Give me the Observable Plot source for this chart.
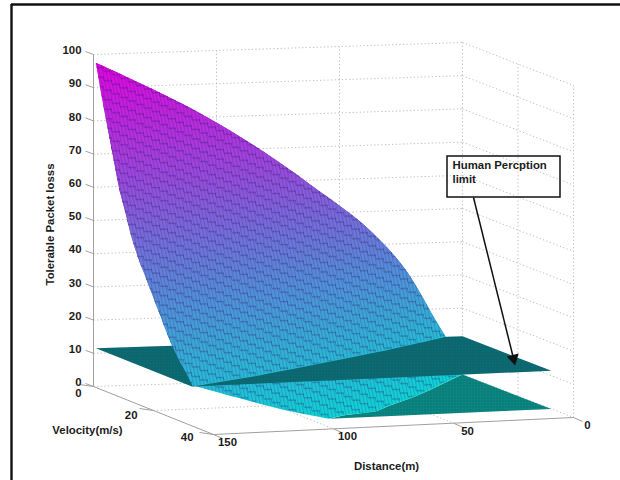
<!DOCTYPE html>
<html>
<head>
<meta charset="utf-8">
<script src="https://cdn.jsdelivr.net/npm/d3@7"></script>
<script src="https://cdn.jsdelivr.net/npm/@observablehq/plot@0.6"></script>
<style>body{margin:0;background:#fff}svg{display:block}</style>
</head>
<body>
<div id="chart"></div>
<script>
// ---- values ----
const lossTicks = [0,10,20,30,40,50,60,70,80,90,100];
const distanceTicks = [150,100,50,0];
const velocityTicks = [0,20,40];
const distanceNodes = [149,130,112,94,76,58,40,24,12,5,0];
const velocityNodes = [0,2,4,6,8,10,12,14,16,18,20,22,24,26,28,30,32];
const lossTable = [
 [97.5,90.5,83.5,75.5,66.5,56.5,46,33,18,9,0],
 [88,81.5,75,67,57,48,36,22,8,.5,0],
 [79,72,65.5,58,49,39,27,14.5,3,0,0],
 [70,63,56.5,49.5,41.5,32,21,9.2,0,0,0],
 [61.5,55,49,43,35.5,26.5,16.5,5.1,0,0,0],
 [55.5,48,43,37,30.5,23,12.5,1.3,0,0,0],
 [49,43,38,33,27,18,8.5,0,0,0,0],
 [44,39,34.5,29,23,15,5.5,0,0,0,0],
 [40,35,30,24.5,19,11.5,2.4,0,0,0,0],
 [36,30,25.5,21,15.5,8.8,0,0,0,0,0],
 [32,26.5,22,17,12.5,5.8,0,0,0,0,0],
 [28,22.5,18,14.5,10,2.8,0,0,0,0,0],
 [24,19,15,12,7,0,0,0,0,0,0],
 [20.5,16,12.5,9,4,0,0,0,0,0,0],
 [17.5,13.5,9.5,5.5,1.5,0,0,0,0,0,0],
 [15,10,6.5,3,0,0,0,0,0,0,0],
 [12,7.5,3.5,.3,0,0,0,0,0,0,0]
];
// where the surface reaches the floor (distance, velocity)
const floorEdgeDistance = [0,5,12,28,40,58,67,84,92];
const floorEdgeVelocity = [0,2.2,5.4,12.5,17.5,24,27.6,30,32];
// where the surface crosses the limit plane (distance, velocity)
const limitEdgeDistance = [149,115,85,47,7];
const limitEdgeVelocity = [32,26,19.6,10.8,0];
const limitLoss = 11.5;
const planeDistance = [149,0,0,149];
const planeVelocity = [0,0,32,32];

// ---- view of the box ----
const cornerFar = [462,374], cornerLeft = [93,386], cornerFront = [213,434], cornerRight = [573,417];
const unitHeight = 3.32;
function project(d,v,z=0){
  const s=d/150,t=v/40;
  const m=i=>(1-s)*(1-t)*cornerFar[i]+s*(1-t)*cornerLeft[i]+s*t*cornerFront[i]+(1-s)*t*cornerRight[i];
  return {px:m(0),py:m(1)-z*unitHeight,d,v,z};
}

// ---- tables for the marks ----
const nodes=[];
velocityNodes.forEach((v,i)=>distanceNodes.forEach((d,j)=>{ if(lossTable[i][j]>0) nodes.push(project(d,v,lossTable[i][j])); }));
const floorEdge=floorEdgeDistance.map((d,i)=>project(d,floorEdgeVelocity[i],0));
const limitEdge=limitEdgeDistance.map((d,i)=>project(d,limitEdgeVelocity[i],limitLoss));
const surfacePoints=[...nodes,...floorEdge];

const topEdge=distanceNodes.map((d,j)=>project(d,0,lossTable[0][j]));
const leftEdge=velocityNodes.map((v,i)=>project(149,v,lossTable[i][0]));
const frontEdge=distanceNodes.map((d,j)=>({d,z:lossTable[16][j]})).filter(o=>o.z>0).map(o=>project(o.d,32,o.z));
const floorPatch=[project(0,0),project(0,32),project(92,32),...floorEdge.slice().reverse()];
const plane=planeDistance.map((d,i)=>project(d,planeVelocity[i],limitLoss));

const seg=(a,b)=>({x1:a.px,y1:a.py,x2:b.px,y2:b.py});
const gridLines=[];
lossTicks.slice(1).forEach(z=>{
  gridLines.push(seg(project(150,0,z),project(0,0,z)),seg(project(0,0,z),project(0,40,z)));
});
gridLines.push(seg(project(150,0,0),project(0,0,0)),seg(project(0,0,0),project(0,40,0)));
[100,50].forEach(d=>{ gridLines.push(seg(project(d,0,0),project(d,40,0)),seg(project(d,0,0),project(d,0,100))); });
gridLines.push(seg(project(150,20,0),project(0,20,0)));
[0,20,40].forEach(v=>gridLines.push(seg(project(0,v,0),project(0,v,100))));
const axisLines=[seg(project(150,0,0),project(150,0,100)),seg(project(150,0,0),project(150,40,0)),seg(project(150,40,0),project(0,40,0))];
const tick=(p,dx,dy)=>({x1:p.px,y1:p.py,x2:p.px+dx,y2:p.py+dy});
const tickLines=[
  ...lossTicks.map(z=>tick(project(150,0,z),-8,-3)),
  ...velocityTicks.map(v=>tick(project(150,v,0),-14,-2)),
  ...distanceTicks.map(d=>tick(project(d,40,0),9,4))
];

const clipped=id=>({render(i,s,v,d,c,next){const g=next(i,s,v,d,c);g.setAttribute("clip-path",`url(#${id})`);return g;}});
const overlay=(fill,id)=>Plot.rect([0],{x1:()=>0,x2:()=>620,y1:()=>0,y2:()=>480,fill,inset:0,...clipped(id)});
const surfaceLayer=id=>[
  Plot.raster(surfacePoints,{x:"px",y:"py",fill:"z",interpolate:"barycentric",pixelSize:1,...clipped(id)}),
  overlay("url(#cellHatch)",id),
  overlay("url(#cellRows)",id)
];
const font={fontFamily:"Liberation Sans",fontWeight:"bold",fontSize:11.4,fill:"#1c1c1c"};
const tlabel=(data,opts)=>Plot.text(data,{x:"px",y:"py",text:"label",...font,...opts});

const plot=Plot.plot({
  width:620,height:480,margin:0,
  style:{background:"white",fontFamily:"Liberation Sans"},
  x:{domain:[0,620],range:[0,620],axis:null},
  y:{domain:[0,480],range:[0,480],axis:null},
  color:{type:"linear",domain:[0,100],range:["#10d4d6","#e600e0"]},
  marks:[
    Plot.ruleX([11],{stroke:"#111",strokeWidth:2.4,y1:4,y2:480}),
    Plot.ruleY([4],{stroke:"#111",strokeWidth:2.4,x1:11,x2:620}),
    Plot.link(gridLines,{x1:"x1",y1:"y1",x2:"x2",y2:"y2",stroke:"#bcbcbc",strokeWidth:1,strokeDasharray:"1.2,2.4"}),
    Plot.link(axisLines,{x1:"x1",y1:"y1",x2:"x2",y2:"y2",stroke:"#a0a0a0",strokeWidth:1}),
    Plot.link(tickLines,{x1:"x1",y1:"y1",x2:"x2",y2:"y2",stroke:"#a0a0a0",strokeWidth:1}),
    Plot.line(floorPatch,{x:"px",y:"py",fill:"#0c8a86",stroke:"none"}),
    Plot.line(floorPatch,{x:"px",y:"py",fill:"url(#planeHatch)",stroke:"none"}),
    ...surfaceLayer("clipWhole"),
    Plot.line(plane,{x:"px",y:"py",fill:"#0d6d76",stroke:"none"}),
    Plot.line(plane,{x:"px",y:"py",fill:"url(#planeHatch)",stroke:"none"}),
    ...surfaceLayer("clipUpper"),
    tlabel(lossTicks.map(z=>({...project(150,0,z),label:String(z)})),{textAnchor:"end",dx:-12,dy:-4}),
    tlabel([{...project(150,0,0),label:"0"}],{textAnchor:"end",dx:-12,dy:7}),
    tlabel([{...project(150,20,0),label:"20"}],{textAnchor:"end",dx:-16,dy:5}),
    tlabel([{...project(150,40,0),label:"40"}],{textAnchor:"end",dx:-20,dy:3}),
    tlabel(distanceTicks.map(d=>({...project(d,40,0),label:String(d)})),{dx:14,dy:8}),
    Plot.text(["Tolerable Packet losss"],{x:()=>50,y:()=>224,rotate:-90,...font}),
    Plot.text(["Velocity(m/s)"],{x:()=>87,y:()=>430,...font}),
    Plot.text(["Distance(m)"],{x:()=>386,y:()=>466,...font}),
    Plot.rect([0],{x1:()=>447,x2:()=>560,y1:()=>156,y2:()=>197,fill:"none",stroke:"#111",strokeWidth:1.5}),
    Plot.text(["Human Percption\nlimit"],{x:()=>452,y:()=>159,textAnchor:"start",lineAnchor:"top",lineHeight:1.2,...font}),
    Plot.link([0],{x1:()=>473,y1:()=>197,x2:()=>513,y2:()=>358,stroke:"#111",strokeWidth:1.5}),
    Plot.dot([0],{x:()=>513,y:()=>358,symbol:"triangle",rotate:166,r:3.6,fill:"#111",stroke:"#111"})
  ]
});
const smooth=d3.line(p=>p.px,p=>p.py).curve(d3.curveCatmullRom);
const joined=(...parts)=>parts.map((pts,i)=>{const s=smooth(pts);return i?s.replace(/^M/,"L"):s;}).join("")+"Z";
const wholePath=joined(topEdge,floorEdge,frontEdge.slice().reverse(),leftEdge.slice().reverse());
const upperPath=joined(topEdge.filter(p=>p.z>=limitLoss),limitEdge.slice().reverse(),leftEdge.slice().reverse());
const defs=`<defs>
<pattern id="cellHatch" width="3.4" height="3.4" patternUnits="userSpaceOnUse" patternTransform="rotate(-12)"><path d="M0.6 0V3.4" stroke="#100848" stroke-opacity=".2" stroke-width="1"/></pattern>
<pattern id="cellRows" width="8" height="9.5" patternUnits="userSpaceOnUse" patternTransform="skewY(24)"><path d="M0 6L8 2.4V6" fill="none" stroke="#1c0a60" stroke-opacity=".4" stroke-width=".9"/></pattern>
<pattern id="planeHatch" width="3" height="3" patternUnits="userSpaceOnUse"><path d="M0 1.5H3M1.5 0V3" stroke="#03383c" stroke-opacity=".22" stroke-width=".7"/></pattern>
<clipPath id="clipWhole"><path d="${wholePath}"/></clipPath>
<clipPath id="clipUpper"><path d="${upperPath}"/></clipPath>
</defs>`;
plot.insertAdjacentHTML("afterbegin",defs);
document.getElementById("chart").append(plot);
</script>
</body>
</html>
